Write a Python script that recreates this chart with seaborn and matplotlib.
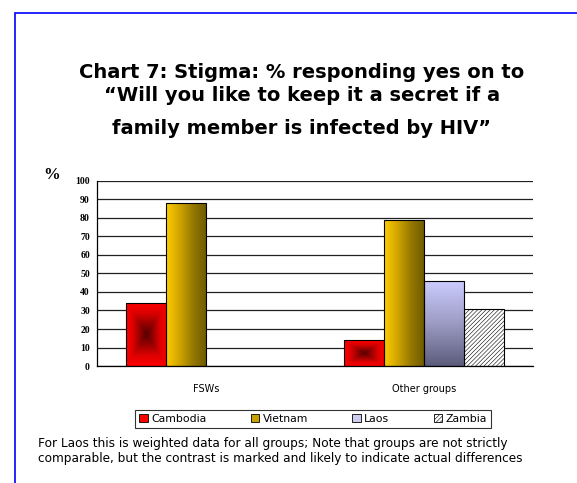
import numpy as np
import pandas as pd
import seaborn as sns
import matplotlib.pyplot as plt
from matplotlib.patches import Patch, Rectangle
from matplotlib.colors import to_hex, LinearSegmentedColormap


# chart values
GROUPS = ['FSWs', 'Other groups']
COUNTRIES = ['Cambodia', 'Vietnam', 'Laos', 'Zambia']
cambodia = [34, 14]
vietnam = [88, 79]
laos = [np.nan, 46]
zambia = [np.nan, 31]
y_ticks = list(range(0, 101, 10))

TITLE_LINES = ['Chart 7: Stigma: % responding yes on to',
               '\u201cWill you like to keep it a secret if a',
               'family member is infected by HIV\u201d']
NOTE = ('For Laos this is weighted data for all groups; Note that groups are not strictly\n'
        'comparable, but the contrast is marked and likely to indicate actual differences')

# long table for seaborn
rows = []
for country, vals in zip(COUNTRIES, [cambodia, vietnam, laos, zambia]):
    for g, v in zip(GROUPS, vals):
        rows.append({'group': g, 'country': country, 'value': v})
df = pd.DataFrame(rows).dropna()

palette = {'Cambodia': '#ff0000', 'Vietnam': '#c8a000',
           'Laos': '#9a9ac0', 'Zambia': '#ffffff'}

sns.set_style('white')
plt.rcParams['font.family'] = ['DejaVu Sans']
plt.rcParams['text.color'] = 'black'
plt.rcParams['xtick.color'] = 'black'
plt.rcParams['ytick.color'] = 'black'
plt.rcParams['hatch.color'] = '#b4b4b4'
plt.rcParams['hatch.linewidth'] = 0.4

fig = plt.figure(figsize=(5.77, 4.83), dpi=100)
ax = fig.add_axes([0.168, 0.242, 0.756, 0.384])

sns.barplot(data=df, x='group', y='value', hue='country', hue_order=COUNTRIES,
            order=GROUPS, palette=palette, width=0.734, dodge=True, saturation=1,
            edgecolor='black', linewidth=0.8, legend=False, ax=ax)

# gradient fills clipped to each bar
cmaps = {
    '#ff0000': LinearSegmentedColormap.from_list('r', ['#580000', '#9a0000', '#dd0000', '#ff0000']),
    '#c8a000': LinearSegmentedColormap.from_list('v', ['#ffcc00', '#d0a400', '#957800', '#6e5a00']),
    '#9a9ac0': LinearSegmentedColormap.from_list('l', ['#ccccff', '#9c9cc4', '#5c5c7c']),
}
n = 100
u, v = np.meshgrid(np.linspace(0, 1, n), np.linspace(0, 1, n))
for p in list(ax.patches):
    col = to_hex(p.get_facecolor())
    x0, y0 = p.get_x(), p.get_y()
    w, h = p.get_width(), p.get_height()
    if col == '#ff0000':
        img = np.maximum(np.abs(u - 0.5), np.abs(v - 0.5)) * 2
    elif col == '#c8a000':
        img = u
    elif col == '#9a9ac0':
        img = v
    else:
        p.set_hatch('////////')
        continue
    im = ax.imshow(img, cmap=cmaps[col], extent=(x0, x0 + w, y0, y0 + h), origin='upper',
                   aspect='auto', zorder=p.get_zorder(), interpolation='bilinear')
    im.set_clip_path(p)
    p.set_facecolor('none')
    p.set_zorder(p.get_zorder() + 0.1)

ax.set_xlim(-0.5, 1.5)
ax.set_ylim(0, 100)
ax.set_yticks(y_ticks)
ax.set_yticklabels([str(t) for t in y_ticks], fontfamily='Liberation Serif',
                   fontweight='bold', fontsize=7)
ax.set_axisbelow(True)
ax.yaxis.grid(True, color='#202020', linewidth=0.9)
ax.xaxis.grid(False)
ax.set_xlabel('')
ax.set_ylabel('')
ax.set_xticks([0, 1])
ax.set_xticklabels(GROUPS, fontsize=7)
ax.set_xticks([-0.5, 0.5, 1.5], minor=True)
ax.tick_params(axis='x', which='major', length=0, pad=13)
ax.tick_params(axis='x', which='minor', length=4, width=0.8, direction='out', color='black')
ax.tick_params(axis='y', length=3, width=0.8, direction='out', color='black', pad=2)
for s in ['top', 'right']:
    ax.spines[s].set_visible(False)
for s in ['left', 'bottom']:
    ax.spines[s].set_color('black')
    ax.spines[s].set_linewidth(0.9)

fig.text(52 / 577, 1 - 175 / 483, '%', fontfamily='Liberation Serif', fontweight='bold',
         fontsize=12, ha='center', va='center')

# title
for txt, yp in zip(TITLE_LINES, [72, 96, 129]):
    fig.text(302 / 577, 1 - yp / 483, txt, fontsize=14, fontweight='bold',
             ha='center', va='center')

# legend
handles = [Patch(facecolor=c, edgecolor='black', linewidth=0.6) for c in ['#ff0000', '#c8a000', '#ccccee', '#ffffff']]
handles[3].set_hatch('////////')
leg = fig.legend(handles, COUNTRIES, loc='center', bbox_to_anchor=(313 / 577, 1 - 419 / 483),
                 ncol=4, fontsize=7.8, frameon=True, fancybox=False, edgecolor='black',
                 handlelength=0.8, handleheight=0.8, handletextpad=0.3, columnspacing=4.1,
                 borderpad=0.35)
leg.get_frame().set_linewidth(0.8)

fig.text(38 / 577, 1 - 451 / 483, NOTE, fontsize=8.7, ha='left', va='center', linespacing=1.15)

# blue frame around the slide
fig.patches.append(Rectangle((15 / 577, -0.1), 1.2, 1.1 - 13 / 483, transform=fig.transFigure,
                             fill=False, edgecolor='#0000ff', linewidth=1.2, clip_on=False))

fig.savefig('out.png', dpi=100)
